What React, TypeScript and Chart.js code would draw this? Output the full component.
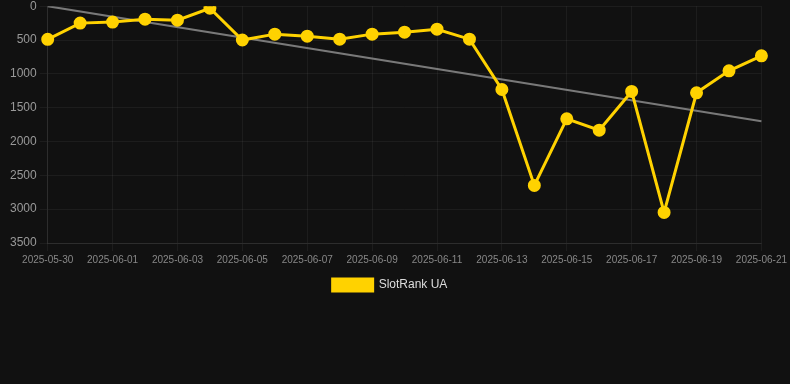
import React, { useEffect, useRef } from "react";
import { Chart, registerables } from "chart.js";

Chart.register(...registerables);

const labels = [
  "2025-05-30", "2025-05-31", "2025-06-01", "2025-06-02", "2025-06-03", "2025-06-04",
  "2025-06-05", "2025-06-06", "2025-06-07", "2025-06-08", "2025-06-09", "2025-06-10",
  "2025-06-11", "2025-06-12", "2025-06-13", "2025-06-14", "2025-06-15", "2025-06-16",
  "2025-06-17", "2025-06-18", "2025-06-19", "2025-06-20", "2025-06-21",
];

const rankValues = [
  490, 250, 235, 192, 206, 30,
  500, 413, 443, 487, 413, 384,
  340, 487, 1231, 2649, 1665, 1832,
  1260, 3048, 1280, 955, 734,
];

const trendStart = 0;
const trendEnd = 1700;

const seriesLabel = "SlotRank UA";

const legendShift = {
  id: "legendShift",
  afterLayout(chart: any) {
    if (chart.legend) {
      chart.legend.left -= 14;
    }
  },
};

export default function App() {
  const ref = useRef<HTMLCanvasElement | null>(null);

  useEffect(() => {
    document.body.style.margin = "0";
    document.body.style.background = "#111111";
    if (!ref.current) return;
    const trendData = labels.map((_, i) =>
      i === 0 ? trendStart : i === labels.length - 1 ? trendEnd : null
    );
    const chart = new Chart(ref.current, {
      type: "line",
      data: {
        labels,
        datasets: [
          {
            label: seriesLabel,
            data: rankValues,
            borderColor: "#ffd200",
            backgroundColor: "#ffd200",
            borderWidth: 3,
            pointRadius: 5,
            pointHoverRadius: 5,
            pointBackgroundColor: "#ffd200",
            pointBorderColor: "#ffd200",
            tension: 0,
            order: 1,
          },
          {
            label: "trend",
            data: trendData,
            borderColor: "rgba(140,140,140,0.85)",
            backgroundColor: "rgba(140,140,140,0.85)",
            borderWidth: 2,
            pointRadius: 0,
            spanGaps: true,
            order: 2,
          },
        ],
      },
      plugins: [legendShift],
      options: {
        animation: false,
        responsive: false,
        maintainAspectRatio: false,
        layout: { padding: { left: 7, right: 3, top: 0, bottom: 83 } },
        scales: {
          x: {
            grid: { color: "rgba(255,255,255,0.05)" },
            border: { color: "rgba(255,255,255,0.08)" },
            ticks: {
              color: "#888888",
              font: { size: 10, family: "Arial, 'Liberation Sans', sans-serif" },
              maxRotation: 0,
              autoSkip: true,
            },
          },
          y: {
            reverse: true,
            min: 0,
            max: 3500,
            grid: { color: "rgba(255,255,255,0.05)" },
            border: { color: "rgba(255,255,255,0.08)" },
            ticks: {
              stepSize: 500,
              color: "#999999",
              font: { size: 12, family: "Arial, 'Liberation Sans', sans-serif" },
              callback: (v) => String(v),
            },
          },
        },
        plugins: {
          legend: {
            position: "bottom",
            labels: {
              color: "#dddddd",
              boxWidth: 40,
              boxHeight: 12,
              font: { size: 12, family: "Arial, 'Liberation Sans', sans-serif" },
              filter: (item) => item.text === seriesLabel,
            },
          },
          tooltip: { enabled: false },
        },
      },
    });
    return () => chart.destroy();
  }, []);

  return (
    <div style={{ width: 790, height: 384, background: "#111111", overflow: "hidden" }}>
      <canvas
        ref={ref}
        width={790}
        height={388}
        style={{ display: "block", marginTop: -4 }}
      />
    </div>
  );
}
